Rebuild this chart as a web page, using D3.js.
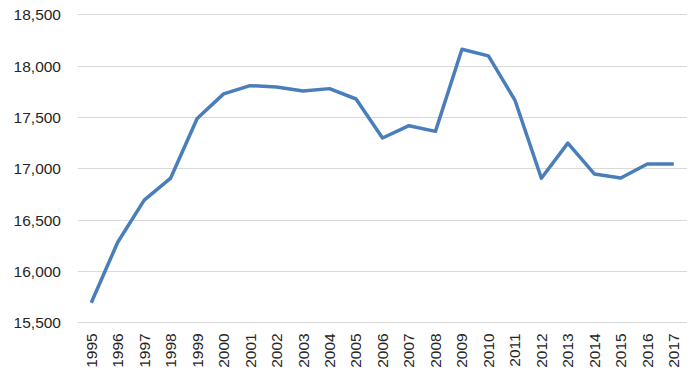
<!DOCTYPE html>
<html><head><meta charset="utf-8">
<script src="https://cdn.jsdelivr.net/npm/d3@7"></script>
<style>body{margin:0;background:#fff}svg{display:block}</style>
</head><body><svg id="c" width="700" height="378"></svg>
<script>
const years = ["1995","1996","1997","1998","1999","2000","2001","2002","2003","2004","2005","2006","2007","2008","2009","2010","2011","2012","2013","2014","2015","2016","2017"];
const values = [15690,16280,16690,16905,17485,17725,17805,17792,17752,17776,17675,17295,17415,17360,18160,18095,17665,16903,17245,16945,16906,17042,17042];
const yTicks = [15500,16000,16500,17000,17500,18000,18500];

(function () {
const svg = d3.select("#c");
const pl = 78, pr = 687, pt = 14.3, pb = 322.3;
const x = d3.scaleBand().domain(years).range([pl, pr]);
const y = d3.scaleLinear().domain([15500,18500]).range([pb, pt]);
const font = "Liberation Sans, Arial, sans-serif";

svg.append("g").selectAll("line").data(yTicks).join("line")
  .attr("x1", pl).attr("x2", pr)
  .attr("y1", d => Math.round(y(d)) + 0.5).attr("y2", d => Math.round(y(d)) + 0.5)
  .attr("stroke", "#d9d9d9").attr("stroke-width", 1);

const yAxis = d3.axisLeft(y).tickValues(yTicks).tickFormat(d3.format(",")).tickSize(0).tickPadding(0);
const gy = svg.append("g").attr("transform", `translate(61,0)`).call(yAxis);
gy.select(".domain").remove();
gy.selectAll("text").attr("font-family", font).attr("font-size", 15.5).attr("fill", "#262626").attr("dy", "0.35em");

const xAxis = d3.axisBottom(x).tickSize(0).tickPadding(0);
const gx = svg.append("g").attr("transform", `translate(0,${pb})`).call(xAxis);
gx.select(".domain").remove();
gx.selectAll("text").attr("font-family", font).attr("font-size", 15.5).attr("fill", "#262626")
  .attr("transform", "rotate(-90)").attr("text-anchor", "end")
  .attr("x", -11).attr("y", 0).attr("dy", "0.35em");

const line = d3.line().x((d, i) => x(years[i]) + x.bandwidth() / 2).y(d => y(d));
svg.append("path").datum(values).attr("d", line)
  .attr("fill", "none").attr("stroke", "#4a7ebb").attr("stroke-width", 3.5)
  .attr("stroke-linejoin", "round").attr("stroke-linecap", "butt");
})();
</script></body></html>
